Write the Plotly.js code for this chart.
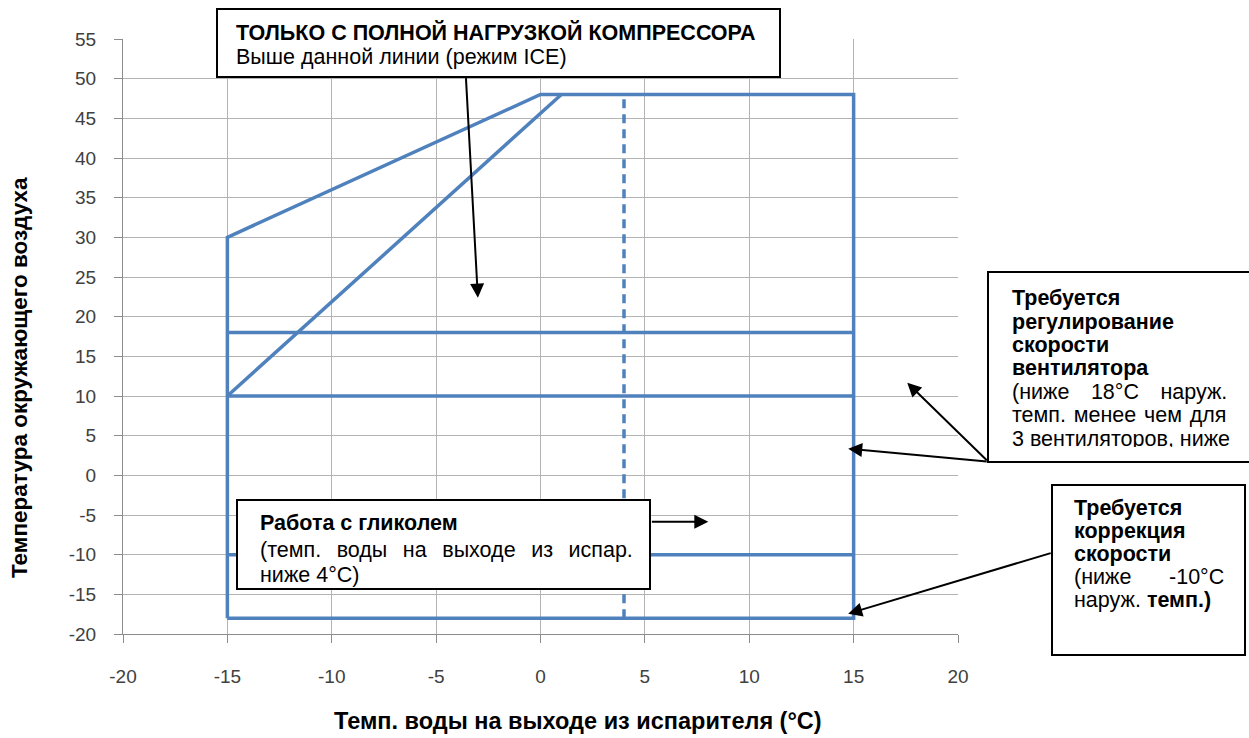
<!DOCTYPE html>
<html>
<head>
<meta charset="utf-8">
<script src="https://cdn.plot.ly/plotly-3.0.1.min.js"></script>
<style>html,body{margin:0;padding:0;background:#fff;}#chart{width:1249px;height:738px;}</style>
</head>
<body>
<div id="chart"></div>
<script>
// ---- data ----
const envelopeX = [-15, -15, 0, 15, 15, -15];
const envelopeY = [-18, 30, 48, 48, -18, -18];
const diagonalX = [-15, 1];
const diagonalY = [10, 48];
const levelX = [-15, 15];
const levelsY = [18, 10, -10];
const glycolX = [4, 4];
const glycolY = [-18, 48];
const xTicks = [-20, -15, -10, -5, 0, 5, 10, 15, 20];
const yTicks = [55, 50, 45, 40, 35, 30, 25, 20, 15, 10, 5, 0, -5, -10, -15, -20];
const xTitle = 'Темп. воды на выходе из испарителя (°C)';
const yTitle = 'Температура окружающего воздуха';

// arrow tips (data units)
const arrowTipsX = [-3, 17.57, 14.74, 14.74, 8.04];
const arrowTipsY = [22.4, 11.68, 3.36, -17.44, -5.84];

// text lines: [text, bold, justify width in px or 0]
const topBoxLines = [['ТОЛЬКО С ПОЛНОЙ НАГРУЗКОЙ КОМПРЕССОРА', true, 0], ['Выше данной линии (режим ICE)', false, 0]];
const fanBoxLines = [['Требуется', true, 0], ['регулирование', true, 0], ['скорости', true, 0], ['вентилятора', true, 0],
  ['(ниже 18°C наруж.', false, 216], ['темп. менее чем для', false, 216], ['3 вентиляторов, ниже', false, 0]];
const speedBoxLines = [['Требуется', true, 0], ['коррекция', true, 0], ['скорости', true, 0], ['(ниже -10°C', false, 151], ['наруж. |темп.)', false, 0]];
const glycolBoxLines = [['Работа с гликолем', true, 0], ['(темп. воды на выходе из испар.', false, 369], ['ниже 4°C)', false, 0]];

// ---- layout helpers (pixel -> paper) ----
const L = 123, R = 291, T = 39, B = 104, W = 1249, H = 738;
const PW = W - L - R, PH = H - T - B;
const px = v => (v - L) / PW;
const py = v => (H - B - v) / PH;

const BLUE = '#4F81BD';
const lineStyle = {color: BLUE, width: 3.5};
const traces = [
  {x: envelopeX, y: envelopeY, mode: 'lines', line: lineStyle, hoverinfo: 'skip'},
  {x: diagonalX, y: diagonalY, mode: 'lines', line: lineStyle, hoverinfo: 'skip'}
];
levelsY.forEach(lv => traces.push({x: levelX, y: levelX.map(() => lv), mode: 'lines', line: lineStyle, hoverinfo: 'skip'}));
traces.push({x: glycolX, y: glycolY, mode: 'lines', line: {color: BLUE, width: 3.5, dash: '9px,6px'}, hoverinfo: 'skip'});

const FONT = 'Liberation Sans, Arial, sans-serif';
const FS = 21.5;
const ctx = document.createElement('canvas').getContext('2d');
function measure(t) { ctx.font = FS + 'px "Liberation Sans"'; return ctx.measureText(t).width; }
function justify(text, width) {
  const words = text.split(' ');
  if (!width || words.length < 2) return text;
  const natural = measure(words.join(' '));
  const nb = measure('\u00a0'), hs = measure('\u200a') || 1;
  let extra = (width - natural) / (words.length - 1);
  if (extra <= 0) return text;
  const n = Math.floor(extra / nb);
  const m = Math.max(0, Math.round((extra - n * nb) / hs));
  return words.join('\u00a0'.repeat(n) + '\u200a'.repeat(m) + ' ');
}
function box(x0, y0, x1, y1) {
  return {type: 'rect', xref: 'paper', yref: 'paper', x0: px(x0), x1: px(x1), y0: py(y1), y1: py(y0),
    line: {color: '#000', width: 2}, fillcolor: '#fff', layer: 'above'};
}
const shapes = [box(217, 9, 780, 77), box(988, 272, 1265, 462), box(1052, 485, 1245, 655), box(237, 500, 650, 589)];

const annotations = [];
function textLines(lines, x, yCenters, clipLast) {
  lines.forEach((ln, i) => {
    let t = justify(ln[0], ln[2]);
    if (t.indexOf('|') >= 0) { const p = t.split('|'); t = p[0] + '<b>' + p[1] + '</b>'; }
    const a = {xref: 'paper', yref: 'paper', x: px(x), y: py(yCenters[i]), xanchor: 'left', yanchor: 'middle',
      showarrow: false, align: 'left', borderpad: 0,
      text: ln[1] ? '<b>' + t + '</b>' : t, font: {family: FONT, size: FS, color: '#000'}};
    if (clipLast && i === lines.length - 1) { a.height = clipLast; a.valign = 'top'; a.yanchor = 'top'; a.y = py(yCenters[i] - 12); }
    annotations.push(a);
  });
}
// arrows
const tails = [[-12, -221], [81, 79], [140, 13], [204, -61], [-58, 0]];
arrowTipsX.forEach((xv, i) => annotations.push({x: xv, y: arrowTipsY[i], xref: 'x', yref: 'y', ax: tails[i][0], ay: tails[i][1],
  showarrow: true, arrowhead: 2, arrowsize: 1.4, arrowwidth: 2, arrowcolor: '#000', text: '', standoff: 0}));

textLines(topBoxLines, 235, [32, 57]);
textLines(fanBoxLines, 1011, [298, 322, 345, 368, 392, 415, 438], 20);
textLines(speedBoxLines, 1073, [508, 531, 554, 577, 600]);
textLines(glycolBoxLines, 259, [523, 550, 575]);

// axis titles
annotations.push({xref: 'paper', yref: 'paper', x: px(578), y: py(721), xanchor: 'center', yanchor: 'middle', showarrow: false,
  text: '<b>' + xTitle + '</b>', font: {family: FONT, size: 23.5, color: '#000'}});
annotations.push({xref: 'paper', yref: 'paper', x: px(19), y: py(378), xanchor: 'center', yanchor: 'middle', showarrow: false, textangle: -90,
  text: '<b>' + yTitle + '</b>', font: {family: FONT, size: 22.5, color: '#000'}});

const layout = {
  width: W, height: H, margin: {l: L, r: R, t: T, b: B, pad: 0},
  paper_bgcolor: '#fff', plot_bgcolor: '#fff', showlegend: false,
  xaxis: {range: [-20, 20], tickvals: xTicks, ticktext: xTicks.map(String), showgrid: true, gridcolor: '#b3b3b3', gridwidth: 1,
    zeroline: false, showline: true, linecolor: '#8c8c8c', linewidth: 1, ticks: 'outside', ticklen: 8, tickcolor: '#8c8c8c',
    ticklabelstandoff: 17, tickfont: {family: FONT, size: 19, color: '#404040'}, fixedrange: true},
  yaxis: {range: [-20, 55], tickvals: yTicks, ticktext: yTicks.map(String), showgrid: true, gridcolor: '#b3b3b3', gridwidth: 1,
    zeroline: false, showline: true, linecolor: '#8c8c8c', linewidth: 1, ticks: 'outside', ticklen: 8, tickcolor: '#8c8c8c',
    ticklabelstandoff: 14, tickfont: {family: FONT, size: 19, color: '#404040'}, fixedrange: true},
  shapes: shapes, annotations: annotations
};
Plotly.newPlot('chart', traces, layout, {staticPlot: true, displayModeBar: false});
</script>
</body>
</html>
